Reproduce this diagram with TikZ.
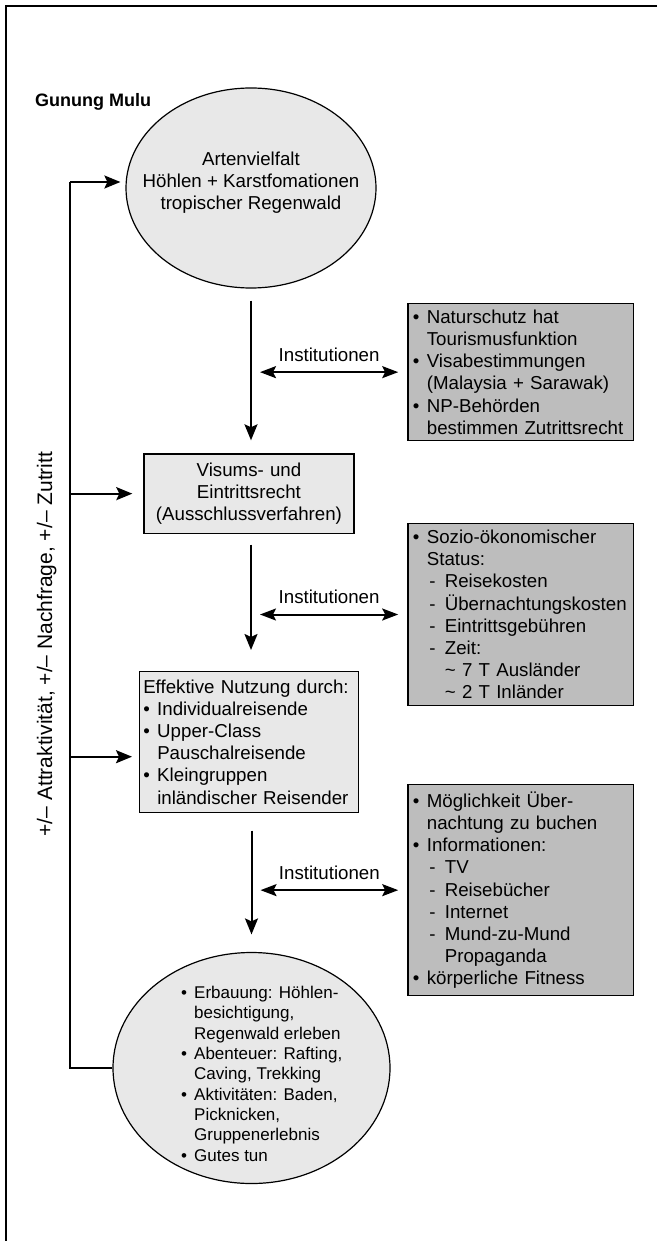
\documentclass[tikz,border=0pt]{standalone}
\usepackage{fontspec}
\setmainfont{Liberation Sans}
\usetikzlibrary{arrows.meta,shapes.geometric}
\definecolor{lightfill}{gray}{0.91}
\definecolor{darkfill}{gray}{0.74}
\newcommand{\gmbul}{\makebox[14pt][l]{•}}
\newcommand{\gmind}{\hspace*{14pt}}
\newcommand{\gmdsh}{\hspace*{16.5pt}\makebox[15.5pt][l]{-}}
\newcommand{\gmbulb}{\makebox[13pt][l]{•}}
\newcommand{\gmindb}{\hspace*{13pt}}
\begin{document}
\begin{tikzpicture}[x=1pt,y=-1pt,
  txt/.style={font=\fontsize{18.7}{22.2}\selectfont},
  arr/.style={line width=2pt, -{Stealth[length=16pt,width=13pt,inset=3pt]}},
  dbl/.style={line width=2pt, {Stealth[length=16pt,width=12pt,inset=3pt]}-{Stealth[length=16pt,width=12pt,inset=3pt]}},
  fline/.style={line width=2pt, line join=miter},
  frame/.style={line width=2pt},
  ell/.style={ellipse, draw, line width=1.2pt, fill=lightfill, inner sep=0pt},
  darkbox/.style={txt, draw, line width=1.3pt, fill=darkfill, anchor=north west, inner xsep=5pt, inner ysep=0pt, align=left},
  lightbox/.style={txt, draw, line width=1.3pt, fill=lightfill, anchor=north west, inner ysep=0pt},
  instlabel/.style={txt, midway, anchor=base, inner sep=0pt}
]
\useasboundingbox (0,0) rectangle (657,1241);
\fill[white] (0,0) rectangle (657,1241);
% frame
\coordinate (frTR) at (657,6);
\coordinate (frTL) at (6,6);
\coordinate (frBL) at (6,1241);
\draw[frame] (frTR) -- (frTL) -- (frBL);

% title
\node[font=\bfseries\fontsize{18}{21}\selectfont, anchor=base west, inner sep=0pt] (title) at (35,107) {Gunung Mulu};

% top ellipse
\node[ell, minimum width=250pt, minimum height=200pt] (e1) at (251,188) {};
\node[txt, align=center, anchor=north, inner sep=0pt] (e1txt) at (251,151.4)
  {Artenvielfalt\\Höhlen + Karstfomationen\\tropischer Regenwald};

% box 1
\node[darkbox, text width=215.5pt, minimum height=137pt] (b1) at (407.2,303)
  {\gmbul Naturschutz hat\\
   \gmind Tourismusfunktion\\
   \gmbul Visabestimmungen\\
   \gmind (Malaysia + Sarawak)\\
   \gmbul NP-Behörden\\
   \gmind bestimmen Zutrittsrecht};

% Visums box
\node[lightbox, align=center, text width=200pt, inner xsep=5pt, minimum height=79.4pt] (vis) at (143.3,453.3)
  {Visums- und\\Eintrittsrecht\\(Ausschlussverfahren)};

% box 2
\node[darkbox, text width=215.5pt, minimum height=182.3pt] (b2) at (407.2,522.7)
  {\gmbul Sozio-ökonomischer\\
   \gmind Status:\\
   \gmdsh Reisekosten\\
   \gmdsh Übernachtungskosten\\
   \gmdsh Eintrittsgebühren\\
   \gmdsh Zeit:\\
   \hspace*{32pt}\textasciitilde{} 7 T Ausländer\\
   \hspace*{32pt}\textasciitilde{} 2 T Inländer};

% Effektive box
\node[lightbox, align=left, text width=211.3pt, inner xsep=3.6pt, minimum height=141pt] (eff) at (139,670.7)
  {Effektive Nutzung durch:\\
   \gmbul Individualreisende\\
   \gmbul Upper-Class\\
   \gmind Pauschalreisende\\
   \gmbul Kleingruppen\\
   \gmind inländischer Reisender};

% box 3
\node[darkbox, text width=215.5pt, minimum height=211pt] (b3) at (407.2,784)
  {\gmbul Möglichkeit Über-\\
   \gmind nachtung zu buchen\\
   \gmbul Informationen:\\
   \gmdsh TV\\
   \gmdsh Reisebücher\\
   \gmdsh Internet\\
   \gmdsh Mund-zu-Mund\\
   \hspace*{32pt}Propaganda\\
   \gmbul körperliche Fitness};

% bottom ellipse
\node[ell, minimum width=277pt, minimum height=231pt] (e2) at (251.5,1068) {};
\node[font=\fontsize{17}{20.34}\selectfont, align=left, anchor=north west, inner sep=0pt] (e2txt) at (181,985.9)
  {\gmbulb Erbauung: Höhlen-\\
   \gmindb besichtigung,\\
   \gmindb Regenwald erleben\\
   \gmbulb Abenteuer: Rafting,\\
   \gmindb Caving, Trekking\\
   \gmbulb Aktivitäten: Baden,\\
   \gmindb Picknicken,\\
   \gmindb Gruppenerlebnis\\
   \gmbulb Gutes tun};

% main vertical arrows
\draw[arr, shorten <=12pt, shorten >=13pt] (e1.south) -- (e1.south |- vis.north);
\draw[arr, shorten <=10.6pt, shorten >=20.7pt] (e1.south |- vis.south) -- (e1.south |- eff.north);
\draw[arr, shorten <=17.6pt, shorten >=17.5pt] (e2.north |- eff.south) -- (e2.north);

% Institutionen double arrows
\draw[dbl, shorten <=9pt, shorten >=9pt] (e1.south |- b1.west) -- (b1.west)
  node[instlabel, yshift=11pt] (i1) {Institutionen};
\draw[dbl, shorten <=9pt, shorten >=9pt] (e1.south |- b2.west) -- (b2.west)
  node[instlabel, yshift=11pt] (i2) {Institutionen};
\draw[dbl, shorten <=9pt, shorten >=9pt] (e2.north |- b3.west) -- (b3.west)
  node[instlabel, yshift=10.5pt] (i3) {Institutionen};

% feedback loop
\coordinate (fbtop) at (70,182);
\coordinate (fbmid) at (70,756.7);
\draw[fline] (e2.west) -- (e2.west -| fbtop) -- (fbtop);
\draw[arr, shorten >=5pt] (fbtop) -- (e1.west |- fbtop);
\draw[arr, shorten >=11pt] (fbtop |- vis.west) -- (vis.west);
\draw[arr, shorten >=7pt] (fbmid) -- (fbmid -| eff.west);

% side label
\node[font=\fontsize{21}{25}\selectfont, rotate=90, anchor=base, inner sep=0pt] (side) at (52,644)
  {+/– Attraktivität, +/– Nachfrage, +/– Zutritt};
\end{tikzpicture}
\end{document}
